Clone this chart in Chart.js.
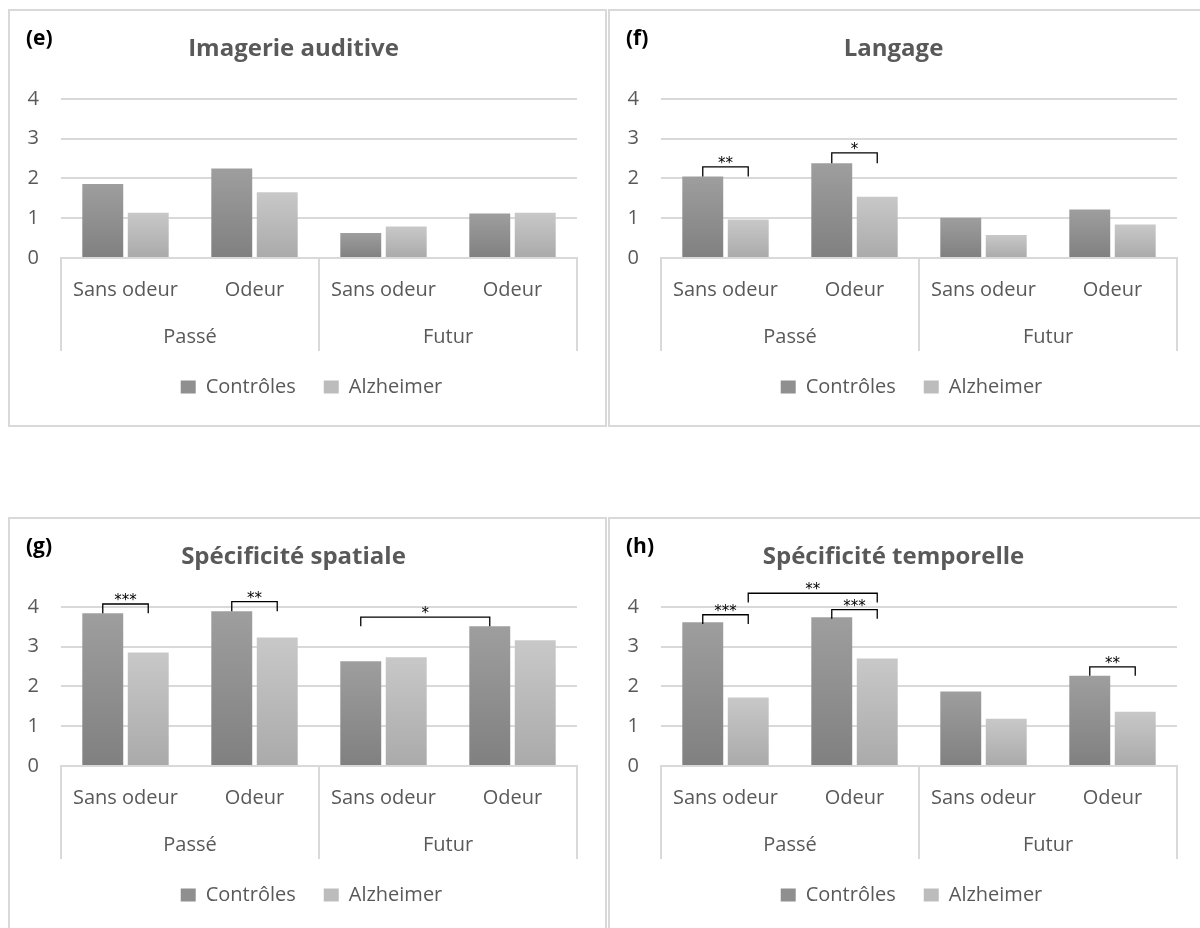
<!DOCTYPE html>
<html>
<head>
<meta charset="utf-8">
<script src="https://cdn.jsdelivr.net/npm/chart.js@4.4.0/dist/chart.umd.min.js"></script>
<style>
body{margin:0;background:#fff;width:1200px;height:928px;overflow:hidden;position:relative}
.panel{position:absolute;width:599px;height:418px;border:2px solid #d9d9d9;box-sizing:border-box;background:#fff}
.panel canvas{position:absolute;left:0;top:0}
.tag{position:absolute;left:16px;top:12px;font:bold 21px 'Open Sans',sans-serif;color:#000;line-height:28px}
</style>
</head>
<body>
<div class="panel" style="left:8px;top:9px"><canvas id="ce" width="595" height="414"></canvas><span class="tag">(e)</span></div>
<div class="panel" style="left:608px;top:9px"><canvas id="cf" width="595" height="414"></canvas><span class="tag">(f)</span></div>
<div class="panel" style="left:8px;top:517px"><canvas id="cg" width="595" height="414"></canvas><span class="tag">(g)</span></div>
<div class="panel" style="left:608px;top:517px"><canvas id="ch" width="595" height="414"></canvas><span class="tag">(h)</span></div>
<script>
const categories = ['Sans odeur', 'Odeur', 'Sans odeur', 'Odeur'];
const groups = ['Passé', 'Futur'];
const series = ['Contrôles', 'Alzheimer'];
const yMax = 4;

const auditiveControles = [1.86, 2.25, 0.63, 1.12];
const auditiveAlzheimer = [1.14, 1.65, 0.79, 1.14];
const langageControles = [2.05, 2.38, 1.01, 1.22];
const langageAlzheimer = [0.97, 1.54, 0.58, 0.84];
const spatialeControles = [3.84, 3.89, 2.63, 3.51];
const spatialeAlzheimer = [2.85, 3.23, 2.73, 3.16];
const temporelleControles = [3.61, 3.74, 1.87, 2.27];
const temporelleAlzheimer = [1.72, 2.70, 1.19, 1.36];

// significance brackets: [dataset A, category A, dataset B, category B, bracket top, leg foot, label]
const auditiveSig = [];
const langageSig = [[0, 0, 1, 0, 2.29, 2.05, '**'], [0, 1, 1, 1, 2.64, 2.38, '*']];
const spatialeSig = [[0, 0, 1, 0, 4.07, 3.84, '***'], [0, 1, 1, 1, 4.13, 3.89, '**'], [0, 2, 0, 3, 3.74, 3.51, '*']];
const temporelleSig = [[0, 0, 1, 0, 3.80, 3.57, '***'], [1, 0, 1, 1, 4.34, 4.11, '**'],
  [0, 1, 1, 1, 3.93, 3.70, '***'], [0, 3, 1, 3, 2.49, 2.27, '**']];

const darkTop = '#9e9e9e', darkBottom = '#808080';
const lightTop = '#c8c8c8', lightBottom = '#aaaaaa';
const textGrey = '#595959', lineGrey = '#d9d9d9';

Chart.defaults.font.family = "'Open Sans', sans-serif";
Chart.defaults.color = textGrey;

function barFill(top, bottom) {
  return (ctx) => {
    const chart = ctx.chart;
    const ys = chart.scales && chart.scales.y;
    if (!ys || ctx.raw == null) return top;
    const y0 = ys.getPixelForValue(0), y1 = ys.getPixelForValue(ctx.raw);
    if (!isFinite(y0) || !isFinite(y1) || y0 === y1) return top;
    const g = chart.ctx.createLinearGradient(0, y1, 0, y0);
    g.addColorStop(0, top);
    g.addColorStop(1, bottom);
    return g;
  };
}

// brackets with stars above the bars
const sigPlugin = {
  id: 'sig',
  afterDatasetsDraw(chart, args, opts) {
    const items = opts.items || [];
    const ys = chart.scales.y, c = chart.ctx;
    c.save();
    c.strokeStyle = '#000';
    c.fillStyle = '#000';
    c.lineWidth = 1.3;
    c.font = "15px 'DejaVu Sans'";
    c.textAlign = 'center';
    c.textBaseline = 'alphabetic';
    items.forEach(([da, ia, db, ib, top, foot, label]) => {
      const xa = chart.getDatasetMeta(da).data[ia].x;
      const xb = chart.getDatasetMeta(db).data[ib].x;
      const yt = ys.getPixelForValue(top), yf = ys.getPixelForValue(foot);
      c.beginPath();
      c.moveTo(xa, yf); c.lineTo(xa, yt); c.lineTo(xb, yt); c.lineTo(xb, yf);
      c.stroke();
      c.fillText(label, (xa + xb) / 2, yt + 1);
    });
    c.restore();
  }
};

// vertical separators of the two-level category axis, legend nudged to the plot centre
const groupLines = {
  id: 'groupLines',
  afterLayout(chart) {
    if (chart.legend) { chart.legend.left += 18; chart.legend.right += 18; }
  },
  afterDraw(chart) {
    const x = chart.scales.x, a = chart.chartArea, c = chart.ctx;
    const mid = (x.getPixelForValue(1) + x.getPixelForValue(2)) / 2;
    c.save();
    c.strokeStyle = lineGrey;
    c.lineWidth = 2;
    [a.left, mid, a.right].forEach(px => {
      c.beginPath(); c.moveTo(px, a.bottom); c.lineTo(px, a.bottom + 93); c.stroke();
    });
    c.restore();
  }
};

function makeChart(id, title, controles, alzheimer, sig) {
  new Chart(document.getElementById(id), {
    type: 'bar',
    data: {
      labels: categories,
      datasets: [
        { label: series[0], data: controles, backgroundColor: barFill(darkTop, darkBottom), borderWidth: 0,
          categoryPercentage: 0.705, barPercentage: 0.9 },
        { label: series[1], data: alzheimer, backgroundColor: barFill(lightTop, lightBottom), borderWidth: 0,
          categoryPercentage: 0.705, barPercentage: 0.9 }
      ]
    },
    options: {
      responsive: false,
      animation: false,
      layout: { padding: { left: 0, right: 28, top: 0, bottom: 18 } },
      scales: {
        y: {
          min: 0, max: yMax,
          ticks: { stepSize: 1, font: { size: 20 }, color: textGrey, padding: 22 },
          grid: { color: lineGrey, lineWidth: 2, drawTicks: false },
          border: { display: false },
          afterFit(s) { s.width = 51; }
        },
        x: {
          weight: 0,
          ticks: { font: { size: 20 }, color: textGrey, padding: 20, maxRotation: 0 },
          grid: { display: false, drawTicks: false },
          border: { color: lineGrey, width: 2 },
          afterFit(s) { s.height = 44; }
        },
        x2: {
          type: 'category',
          labels: groups,
          position: 'bottom',
          weight: 1,
          offset: true,
          ticks: { font: { size: 20 }, color: textGrey, padding: 23 },
          grid: { display: false, drawTicks: false },
          border: { display: false },
          afterFit(s) { s.height = 47; }
        }
      },
      plugins: {
        title: {
          display: true, text: title, color: textGrey,
          font: { size: 24, weight: 'bold' },
          padding: { top: 24, bottom: 35 }
        },
        legend: {
          position: 'bottom',
          labels: {
            font: { size: 20 }, color: textGrey, boxWidth: 15, boxHeight: 13, padding: 28,
            generateLabels(chart) {
              const items = Chart.defaults.plugins.legend.labels.generateLabels(chart);
              items.forEach((it, i) => { it.fillStyle = i === 0 ? '#8f8f8f' : '#bcbcbc'; it.lineWidth = 0; it.strokeStyle = 'rgba(0,0,0,0)'; });
              return items;
            }
          }
        },
        tooltip: { enabled: false },
        sig: { items: sig }
      }
    },
    plugins: [sigPlugin, groupLines]
  });
}

makeChart('ce', 'Imagerie auditive', auditiveControles, auditiveAlzheimer, auditiveSig);
makeChart('cf', 'Langage', langageControles, langageAlzheimer, langageSig);
makeChart('cg', 'Spécificité spatiale', spatialeControles, spatialeAlzheimer, spatialeSig);
makeChart('ch', 'Spécificité temporelle', temporelleControles, temporelleAlzheimer, temporelleSig);
</script>
</body>
</html>
